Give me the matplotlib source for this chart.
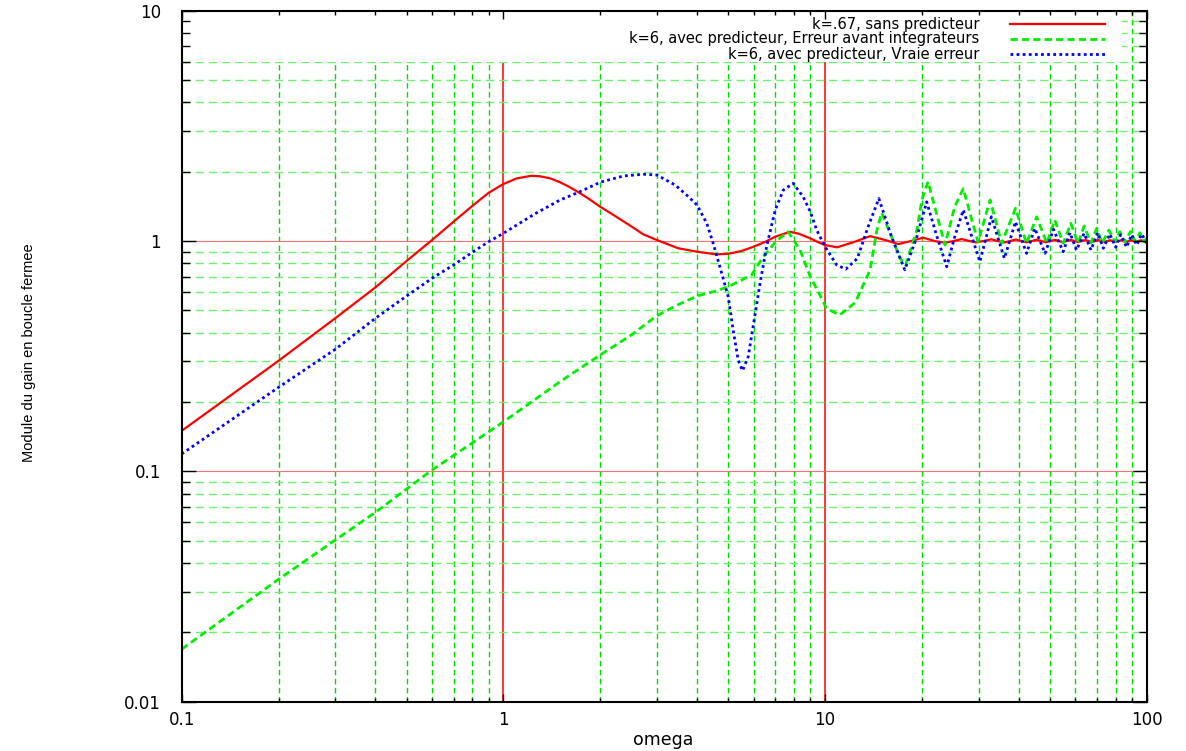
import matplotlib
matplotlib.use("Agg")
import matplotlib.pyplot as plt
from matplotlib.patches import Rectangle
from matplotlib.ticker import FixedLocator, FixedFormatter, LogLocator, NullFormatter

# values (omega, closed-loop gain modulus)
omega_red = [0.1, 0.2, 0.3, 0.4, 0.5, 0.6, 0.7, 0.8, 0.9, 1.0,
             1.1, 1.22, 1.3, 1.4, 1.5, 1.6, 1.73, 1.85, 2.0, 2.2,
             2.47, 2.72, 3.0, 3.5, 4.0, 4.6, 5.0, 5.5, 6.0, 6.5,
             7.0, 7.78, 8.3, 9.0, 9.5, 10.0, 10.9, 12.3, 13.8,
             15.4, 16.9, 18.5, 20.2, 21.9, 23.6, 25.1, 26.6, 28.1, 29.5,
             32.9, 36.0, 39.2, 42.3, 45.5, 48.6, 51.8, 54.9, 58.1, 61.2,
             64.4, 67.5, 70.7, 73.8, 77.0, 80.1, 83.2, 86.4, 89.5, 92.7,
             95.8, 100.0]
gain_red = [0.150, 0.302, 0.462, 0.629, 0.819, 1.01, 1.213, 1.419, 1.62, 1.768,
            1.87, 1.92, 1.91, 1.87, 1.80, 1.72, 1.615, 1.52, 1.409, 1.297,
            1.17, 1.07, 1.01, 0.93, 0.899, 0.875, 0.88, 0.905, 0.945, 0.99,
            1.044, 1.097, 1.075, 1.027, 0.99, 0.961, 0.939, 0.99, 1.05,
            1.01, 0.970, 1.0, 1.034, 1.0, 0.983, 1.0, 1.02, 1.0, 0.986,
            1.017, 0.985, 1.015, 0.987, 1.013, 0.988, 1.012, 0.989, 1.011, 0.99,
            1.010, 0.991, 1.009, 0.992, 1.008, 0.992, 1.008, 0.993, 1.007, 0.993,
            1.007, 0.995]

omega_green = [0.1, 0.2, 0.3, 0.4, 0.6, 1.0, 1.5, 1.73, 2.0, 2.5,
               3.0, 3.5, 4.0, 4.5, 5.0, 5.91, 6.43, 7.05, 7.68, 8.36,
               9.0, 9.64, 10.1, 11.1, 12.4, 13.8, 14.5, 15.0, 16.1, 17.1,
               17.8, 19.3, 20.0, 20.9, 22.2, 23.6, 25.3, 26.9, 28.6, 29.9,
               32.6, 35.4, 39.1, 42.3, 45.5, 48.9, 51.8, 55.0, 58.1, 61.2,
               63.9, 67.1, 69.9, 72.7, 76.3, 79.7, 82.5, 85.5, 89.1, 92.4,
               95.3, 98.3, 100.0]
gain_green = [0.0169, 0.034, 0.0503, 0.0664, 0.1013, 0.164, 0.245, 0.28, 0.32, 0.391,
              0.474, 0.53, 0.577, 0.603, 0.633, 0.712, 0.855, 1.0, 1.097, 0.914,
              0.70, 0.583, 0.51, 0.477, 0.54, 0.748, 1.116, 1.327, 1.044, 0.841,
              0.787, 1.116, 1.507, 1.81, 1.319, 0.961, 1.409, 1.69, 1.234, 0.99,
              1.507, 0.977, 1.387, 0.977, 1.275, 0.977, 1.234, 0.977, 1.193, 0.977,
              1.162, 0.98, 1.135, 0.98, 1.116, 0.99, 1.098, 0.99, 1.10, 0.99,
              1.087, 0.99, 1.03]

omega_blue = [0.1, 0.2, 0.3, 0.4, 0.5, 0.6, 0.7, 0.8, 0.9, 1.0,
              1.25, 1.5, 1.73, 2.0, 2.36, 2.72, 3.0, 3.42, 3.71, 4.0,
              4.29, 4.49, 4.71, 5.0, 5.18, 5.37, 5.54, 5.77, 6.0, 6.28,
              6.58, 7.0, 7.42, 7.96, 8.55, 9.0, 9.42, 10.0, 10.87, 11.6,
              12.6, 13.6, 14.7, 16.1, 17.7, 19.3, 20.7, 22.2, 23.9, 25.3,
              26.9, 28.6, 30.3, 32.9, 36.1, 39.1, 42.3, 44.9, 48.3, 51.3,
              55.0, 57.7, 60.5, 63.9, 67.1, 70.4, 73.3, 76.8, 80.1, 83.0,
              86.6, 89.8, 93.1, 96.5, 100.0]
gain_blue = [0.119, 0.2316, 0.3385, 0.462, 0.577, 0.689, 0.787, 0.893, 0.993, 1.08,
             1.31, 1.507, 1.637, 1.80, 1.916, 1.95, 1.935, 1.751, 1.585, 1.434,
             1.193, 0.977, 0.774, 0.573, 0.411, 0.304, 0.2735, 0.3145, 0.44, 0.655,
             0.945, 1.364, 1.665, 1.78, 1.557, 1.34, 1.116, 0.945, 0.787, 0.755,
             0.84, 1.15, 1.53, 1.044, 0.75, 1.044, 1.48, 1.062, 0.774, 1.044,
             1.364, 1.044, 0.813, 1.275, 0.841, 1.213, 0.884, 1.135, 0.884, 1.124,
             0.899, 1.087, 0.914, 1.08, 0.914, 1.087, 0.93, 1.073, 0.94, 1.066,
             0.94, 1.066, 0.961, 1.073, 0.977]

labels = ["k=.67, sans predicteur",
          "k=6, avec predicteur, Erreur avant integrateurs",
          "k=6, avec predicteur, Vraie erreur"]

x_ticks = [0.1, 1, 10, 100]
x_tick_labels = ["0.1", "1", "10", "100"]
y_ticks = [0.01, 0.1, 1, 10]
y_tick_labels = ["0.01", "0.1", "1", "10"]

W, H = 1186, 751
fig = plt.figure(figsize=(W / 100, H / 100), dpi=100)
rect = [181.7 / W, (H - 701.7) / H, 965 / W, 691 / H]


def setup_log(a):
    a.set_xscale("log")
    a.set_yscale("log")
    a.set_xlim(0.1, 100)
    a.set_ylim(0.01, 10)
    a.xaxis.set_major_locator(FixedLocator(x_ticks))
    a.yaxis.set_major_locator(FixedLocator(y_ticks))
    a.xaxis.set_minor_locator(LogLocator(base=10, subs=range(2, 10)))
    a.yaxis.set_minor_locator(LogLocator(base=10, subs=range(2, 10)))
    a.xaxis.set_minor_formatter(NullFormatter())
    a.yaxis.set_minor_formatter(NullFormatter())


# background axes: grid, key box, curves
ax = fig.add_axes(rect)
setup_log(ax)
ax.set_axisbelow(True)
ax.tick_params(which="both", length=0, labelbottom=False, labelleft=False)
for s in ax.spines.values():
    s.set_visible(False)
ax.xaxis.grid(True, which="minor", color="#00e000", lw=1.0, ls=(0, (4, 2.5)))
ax.yaxis.grid(True, which="minor", color="#70f070", lw=1.0, ls=(0, (6, 3.5)))
ax.xaxis.grid(True, which="major", color="#ff0000", lw=1.1, ls="-")
ax.yaxis.grid(True, which="major", color="#ff7070", lw=0.8, ls="-")

# opaque key area (gnuplot blanks the grid behind the key)
ky0 = (701.7 - 62) / 691
ax.add_patch(Rectangle((0, ky0), (1122 - 181.7) / 965, 1 - ky0, transform=ax.transAxes,
                       facecolor="white", edgecolor="none", zorder=1))

styles = [dict(color="#ff0000", lw=1.6, ls="-"),
          dict(color="#00ee00", lw=2.0, ls=(0, (2.6, 1.5))),
          dict(color="#0000ff", lw=2.0, ls=(0, (1.0, 1.2)))]
series = [(omega_red, gain_red), (omega_green, gain_green), (omega_blue, gain_blue)]
for (om, g), st in zip(series, styles):
    ax.plot(om, g, zorder=2, **st)

# manual key, right aligned text + sample to the right
text_x = (979 - 181.7) / 965
samp = [(1010 - 181.7) / 965, (1105 - 181.7) / 965]
for i, (lab, st) in enumerate(zip(labels, styles)):
    yy = (701.7 - (24 + 15 * i)) / 691
    ax.text(text_x, yy, lab, transform=ax.transAxes, ha="right", va="center",
            fontsize=10.5, family="DejaVu Sans", zorder=3)
    ax.plot(samp, [yy, yy], transform=ax.transAxes, zorder=3, **st)

# overlay axes: frame, ticks on all sides, tick labels
ax2 = fig.add_axes(rect)
setup_log(ax2)
ax2.patch.set_visible(False)
ax2.xaxis.set_major_formatter(FixedFormatter(x_tick_labels))
ax2.yaxis.set_major_formatter(FixedFormatter(y_tick_labels))
ax2.tick_params(axis="x", which="major", direction="in", length=5.5, width=1,
                top=True, pad=6.5, labelsize=12)
ax2.tick_params(axis="x", which="minor", direction="in", length=3, width=1, top=True)
ax2.tick_params(axis="y", which="major", direction="in", length=10, width=1,
                right=True, pad=15, labelsize=12)
ax2.tick_params(axis="y", which="minor", direction="in", length=5.5, width=1, right=True)
for s in ax2.spines.values():
    s.set_linewidth(1.5)

fig.text(663 / W, 1 - 740 / H, "omega", ha="center", va="center", fontsize=12.5)
fig.text(29 / W, 1 - 353 / H, "Module du gain en boucle fermee", rotation=90,
         ha="center", va="center", fontsize=10.5,
         family=["Liberation Sans Narrow", "Liberation Sans"])

fig.savefig("out.png", dpi=100)
